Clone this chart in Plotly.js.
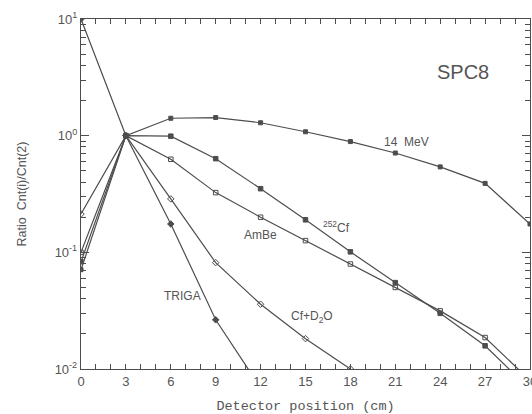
<!DOCTYPE html>
<html><head><meta charset="utf-8">
<script src="https://cdn.plot.ly/plotly-3.0.1.min.js"></script>
<style>html,body{margin:0;padding:0;background:#fff}</style>
</head><body><div id="chart" style="width:532px;height:414px"></div>
<script>
const positions = [0, 3, 6, 9, 12, 15, 18, 21, 24, 27, 30];
const mev14 = [0.071, 1.0, 1.41, 1.43, 1.29, 1.08, 0.89, 0.71, 0.54, 0.39, 0.175];
const cf252 = [0.083, 1.0, 0.99, 0.635, 0.351, 0.19, 0.101, 0.055, 0.030, 0.0158, 0.0067];
const ambe = [0.10, 1.0, 0.628, 0.325, 0.20, 0.126, 0.0794, 0.050, 0.0315, 0.0186, 0.008];
const cfd2oX = [0, 3, 6, 9, 12, 15, 18];
const cfd2o = [0.213, 1.0, 0.287, 0.0816, 0.0359, 0.0182, 0.0100];
const trigaX = [0, 3, 6, 9, 12];
const triga = [10, 1.0, 0.175, 0.0264, 0.0069];
const xTicks = [0, 3, 6, 9, 12, 15, 18, 21, 24, 27, 30];
const yTicks = [0.01, 0.1, 1, 10];
const yTickText = ['10<sup>-2</sup>', '10<sup>-1</sup>', '10<sup>0</sup>', '10<sup>1</sup>'];
const yMinor = [];
[0.01, 0.1, 1].forEach(d => { for (let k = 2; k <= 9; k++) yMinor.push(+(d * k).toPrecision(3)); });

const lc = '#4d4d4d';
function tr(x, y, sym, size) {
  return {x: x, y: y, type: 'scatter', mode: 'lines+markers',
    line: {color: lc, width: 1.2},
    marker: {symbol: sym, size: size, color: lc, line: {color: lc, width: 1}},
    cliponaxis: true, showlegend: false};
}
const data = [
  tr(positions, mev14, 'square', 4),
  tr(positions, cf252, 'square', 4.5),
  tr(positions, ambe, 'square-open', 4.5),
  tr(cfd2oX, cfd2o, 'diamond-open', 5),
  tr(trigaX, triga, 'diamond', 5)
];
const tf = {family: 'Liberation Sans, Arial, sans-serif', size: 12, color: '#555'};
const layout = {
  width: 532, height: 414,
  margin: {l: 81, r: 2, t: 19, b: 45},
  paper_bgcolor: '#fff', plot_bgcolor: '#fff',
  xaxis: {range: [0, 30], tickvals: xTicks, ticks: 'inside', ticklen: 5, tickcolor: lc,
    ticklabeloverflow: 'allow',
    showline: true, linecolor: lc, linewidth: 1.2, mirror: 'ticks', showgrid: false, zeroline: false,
    minor: {dtick: 1, ticks: 'inside', ticklen: 5, tickcolor: lc, showgrid: false},
    tickfont: {family: 'Liberation Sans, Arial, sans-serif', size: 13, color: '#555'},
    title: {text: 'Detector position (cm)', font: {family: 'Liberation Mono, monospace', size: 13.5, color: '#555'}, standoff: 13}},
  yaxis: {type: 'log', range: [-2, 1], tickvals: yTicks, ticktext: yTickText, ticks: 'inside', ticklen: 8, tickcolor: lc,
    showline: true, linecolor: lc, linewidth: 1.2, mirror: 'ticks', showgrid: false, zeroline: false,
    minor: {tickvals: yMinor, ticks: 'inside', ticklen: 5, tickcolor: lc, showgrid: false},
    tickfont: {family: 'Liberation Sans, Arial, sans-serif', size: 13, color: '#555'},
    title: {text: 'Ratio  Cnt(i)/Cnt(2)', font: {family: 'Liberation Sans, Arial, sans-serif', size: 12.5, color: '#555'}, standoff: 25}},
  annotations: [
    {text: 'SPC8', x: 0.851, y: 0.849, font: {family: 'Liberation Sans, Arial, sans-serif', size: 20, color: '#555'}},
    {text: '14  MeV', x: 0.726, y: 0.649, font: tf},
    {text: '<sup>252</sup>Cf', x: 0.570, y: 0.406, font: tf},
    {text: 'AmBe', x: 0.399, y: 0.383, font: tf},
    {text: 'TRIGA', x: 0.227, y: 0.209, font: tf},
    {text: 'Cf+D<sub>2</sub>O', x: 0.514, y: 0.149, font: tf}
  ].map(a => Object.assign({xref: 'paper', yref: 'paper', showarrow: false, xanchor: 'center', yanchor: 'middle'}, a))
};
Plotly.newPlot('chart', data, layout, {staticPlot: true, displayModeBar: false});
</script></body></html>
